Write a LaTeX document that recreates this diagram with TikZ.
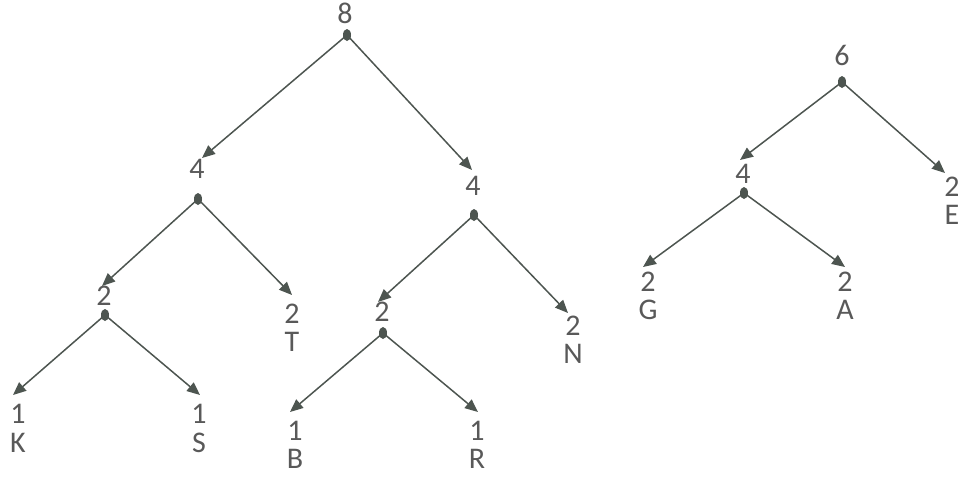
\documentclass[tikz,border=0pt]{standalone}
\usepackage{fontspec}
\setmainfont{Carlito}
\usetikzlibrary{arrows.meta}
\definecolor{txt}{HTML}{595959}
\definecolor{ln}{HTML}{4D5550}
\begin{document}
\begin{tikzpicture}[x=1pt,y=-1pt,
  lbl/.style={inner sep=0pt, text=txt, font=\fontsize{30}{30}\selectfont, text height=0.64em, text depth=0pt, anchor=center},
  edge/.style={draw=ln, line width=1.5pt, -{Triangle[length=13pt,width=11pt]}},
  knot/.style={fill=ln}]
\useasboundingbox (0,0) rectangle (958,480);
% left tree
\node[lbl] (n8) at (345,20) {8};
\coordinate (d8) at (347,35);
\node[lbl] (n4a) at (197,175) {4};
\coordinate (t4a) at (202,158); \coordinate (d4a) at (198,199);
\node[lbl] (n4b) at (473,192) {4};
\coordinate (t4b) at (472,170); \coordinate (d4b) at (474,215);
\node[lbl] (n2a) at (104,302) {2};
\coordinate (t2a) at (102,286); \coordinate (d2a) at (105,315);
\node[lbl] (n2T) at (292,320) {2};
\node[lbl] (lT) at (292,348) {T};
\coordinate (tT) at (292,295);
\node[lbl] (n2b) at (382,318) {2};
\coordinate (t2b) at (378,302); \coordinate (d2b) at (383,333);
\node[lbl] (n2N) at (573,332) {2};
\node[lbl] (lN) at (573,360) {N};
\coordinate (tN) at (568,313);
\node[lbl] (n1K) at (18,420) {1};
\node[lbl] (lK) at (18,449) {K};
\coordinate (tK) at (13,395);
\node[lbl] (n1S) at (199,420) {1};
\node[lbl] (lS) at (199,449) {S};
\coordinate (tS) at (200,395);
\node[lbl] (n1B) at (295,437) {1};
\node[lbl] (lB) at (295,465) {B};
\coordinate (tB) at (290,412);
\node[lbl] (n1R) at (477,437) {1};
\node[lbl] (lR) at (477,465) {R};
\coordinate (tR) at (478,412);
% right tree
\node[lbl] (n6) at (842,62) {6};
\coordinate (d6) at (842,82);
\node[lbl] (n4c) at (743,180) {4};
\coordinate (t4c) at (740,160); \coordinate (d4c) at (744,193);
\node[lbl] (n2E) at (952,193) {2};
\node[lbl] (lE) at (952,221) {E};
\coordinate (tE) at (945,173);
\node[lbl] (n2G) at (648,288) {2};
\node[lbl] (lG) at (648,316) {G};
\coordinate (tG) at (643,267);
\node[lbl] (n2A) at (845,288) {2};
\node[lbl] (lA) at (845,316) {A};
\coordinate (tA) at (845,267);
% connectors
\foreach \a/\b in {d8/t4a, d8/t4b, d4a/t2a, d4a/tT, d4b/t2b, d4b/tN, d2a/tK, d2a/tS, d2b/tB, d2b/tR, d6/t4c, d6/tE, d4c/tG, d4c/tA}
  \draw[edge] (\a) -- (\b);
\foreach \d in {d8, d4a, d4b, d2a, d2b, d6, d4c}
  \fill[knot] (\d) ellipse [x radius=4, y radius=6];
\end{tikzpicture}
\end{document}
